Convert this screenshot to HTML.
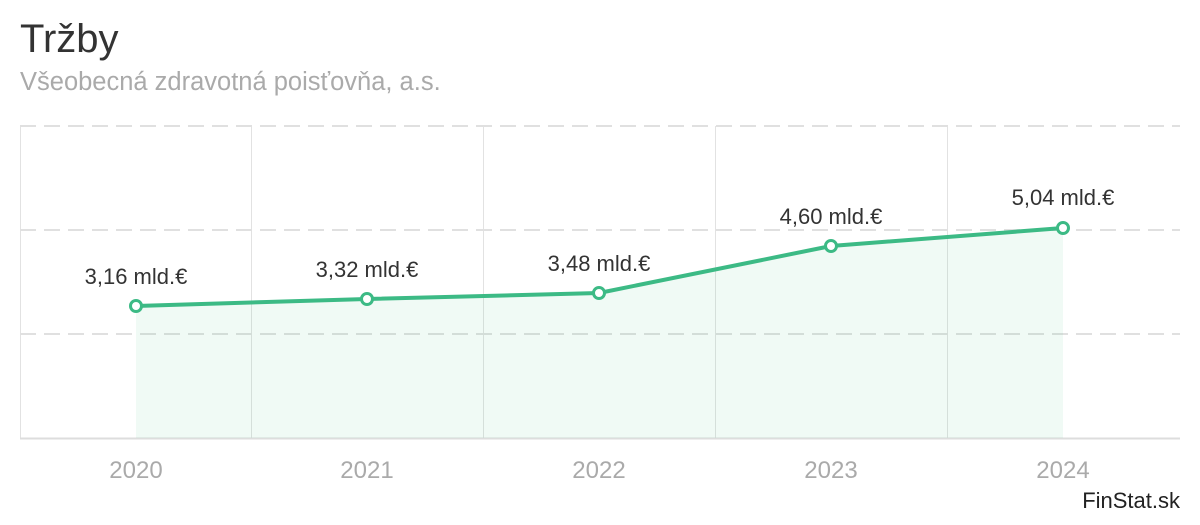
<!DOCTYPE html>
<html><head><meta charset="utf-8"><style>
body{margin:0;width:1200px;height:520px;background:#fff;overflow:hidden;font-family:"Liberation Sans",sans-serif}
</style></head><body>
<svg width="1200" height="520" xmlns="http://www.w3.org/2000/svg" font-family="Liberation Sans, sans-serif">
<text x="20" y="52" font-size="40" fill="#333">Tržby</text>
<text x="20" y="90" font-size="25.5" fill="#aaa">Všeobecná zdravotná poisťovňa, a.s.</text>
<g stroke="#e2e2e2" stroke-width="1">
<line x1="20.5" y1="126" x2="20.5" y2="438"/>
<line x1="251.5" y1="126" x2="251.5" y2="438"/>
<line x1="483.5" y1="126" x2="483.5" y2="438"/>
<line x1="715.5" y1="126" x2="715.5" y2="438"/>
<line x1="947.5" y1="126" x2="947.5" y2="438"/>
</g>
<g stroke="#e0e0e0" stroke-width="2" stroke-dasharray="16,8">
<line x1="20" y1="126" x2="1180" y2="126"/>
<line x1="20" y1="230" x2="1180" y2="230"/>
<line x1="20" y1="334" x2="1180" y2="334"/>
</g>
<line x1="20" y1="438.5" x2="1180" y2="438.5" stroke="#ddd" stroke-width="2"/>
<polygon points="136,306 367,299 599,293 831,246 1063,228 1063,438 136,438" fill="#3cba85" fill-opacity="0.08"/>
<polyline points="136,306 367,299 599,293 831,246 1063,228" fill="none" stroke="#3cba85" stroke-width="4" stroke-linejoin="round"/>
<g fill="#fff" stroke="#3cba85" stroke-width="3">
<circle cx="136" cy="306" r="5.5"/><circle cx="367" cy="299" r="5.5"/><circle cx="599" cy="293" r="5.5"/><circle cx="831" cy="246" r="5.5"/><circle cx="1063" cy="228" r="5.5"/>
</g>
<g font-size="22" fill="#333" text-anchor="middle">
<text x="136" y="284">3,16 mld.€</text>
<text x="367" y="277">3,32 mld.€</text>
<text x="599" y="271">3,48 mld.€</text>
<text x="831" y="224">4,60 mld.€</text>
<text x="1063" y="205">5,04 mld.€</text>
</g>
<g font-size="24" fill="#aaa" text-anchor="middle">
<text x="136" y="478">2020</text>
<text x="367" y="478">2021</text>
<text x="599" y="478">2022</text>
<text x="831" y="478">2023</text>
<text x="1063" y="478">2024</text>
</g>
<text x="1180" y="508" font-size="22" fill="#222" text-anchor="end">FinStat.sk</text>
</svg>
</body></html>
